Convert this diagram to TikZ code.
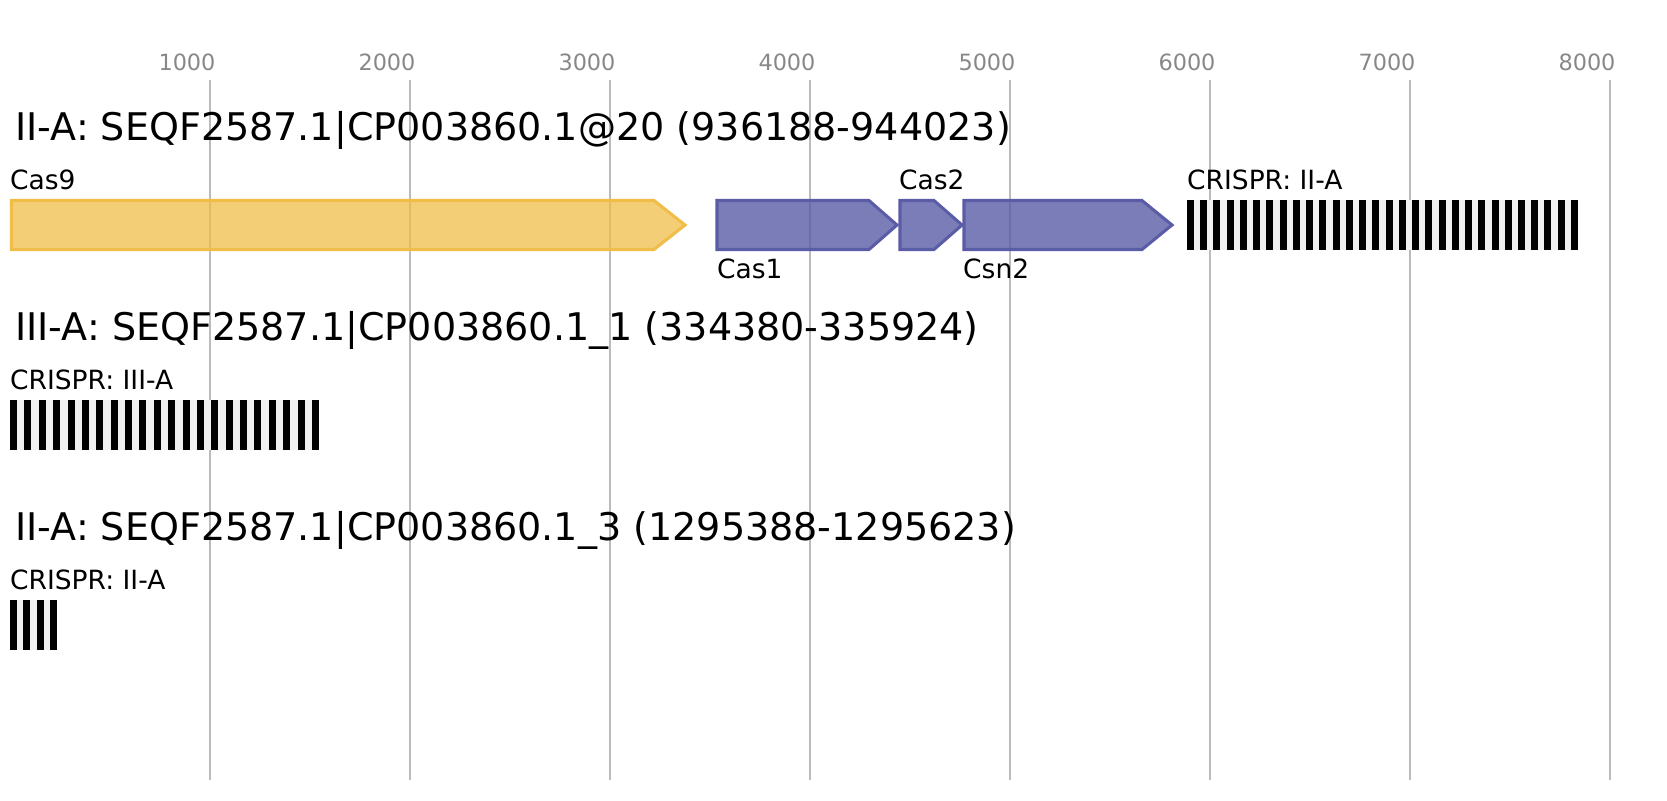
\documentclass[tikz,border=0pt]{standalone}
\usepackage{fontspec}
\setmainfont{DejaVu Sans}
\definecolor{gridgray}{HTML}{BBBBBB}
\definecolor{tickgray}{HTML}{888888}
\definecolor{casyellow}{HTML}{EFBD48}
\definecolor{casblue}{HTML}{5A5CA6}
\definecolor{spacergray}{HTML}{F0F0F0}
\begin{document}
\begin{tikzpicture}[
    x=0.03cm, y=-0.03cm,
  gridline/.style={draw=gridgray, line width=1.7pt},
  ticklabel/.style={anchor=base, inner sep=0, text=tickgray, font=\fontsize{19.1}{21}\selectfont},
  titlelabel/.style={anchor=base west, inner sep=0, font=\fontsize{32.5}{37}\selectfont},
  genelabel/.style={anchor=base west, inner sep=0, font=\fontsize{22.6}{26}\selectfont},
  cassnine/.style={draw=casyellow, fill=casyellow, fill opacity=.75, line width=2.6pt},
  casgene/.style={draw=casblue, fill=casblue, fill opacity=.8, line width=2.6pt},
  spacerbar/.style={fill=spacergray},
  repeatbar/.style={fill=black}
]
\useasboundingbox (0,0) rectangle (1667,800);

% Scale and grid
\foreach \k [evaluate=\k as \xk using 10+200*\k] in {1,...,8} {
  \draw[gridline] (\xk,80) -- (\xk,780);
  \node[ticklabel] (tick\k) at (\xk-23,70) {\k000};
}

% Locus titles
\node[titlelabel] (locusA) at (15,140) {II-A: SEQF2587.1|CP003860.1@20 (936188-944023)};
\node[titlelabel] (locusB) at (15,340) {III-A: SEQF2587.1|CP003860.1\_1 (334380-335924)};
\node[titlelabel] (locusC) at (15,540) {II-A: SEQF2587.1|CP003860.1\_3 (1295388-1295623)};

% Genes
\draw[cassnine] (11.5,200.5) -- (654,200.5) -- (685,225) -- (654,249.5) -- (11.5,249.5) -- cycle;
\draw[casgene] (717,200.5) -- (869,200.5) -- (897,225) -- (869,249.5) -- (717,249.5) -- cycle;
\draw[casgene] (900,200.5) -- (934,200.5) -- (962,225) -- (934,249.5) -- (900,249.5) -- cycle;
\draw[casgene] (964,200.5) -- (1142,200.5) -- (1172,225) -- (1142,249.5) -- (964,249.5) -- cycle;

\node[genelabel] (cas9) at (10,189) {Cas9};
\node[genelabel] (cas1) at (717,278) {Cas1};
\node[genelabel] (cas2) at (899,189) {Cas2};
\node[genelabel] (csn2) at (963,278) {Csn2};

% CRISPR arrays
\fill[spacerbar] (1187,200) rectangle (1578,250);
\foreach \i in {0,...,29}
  \fill[repeatbar] ({1187+13.24*\i},200) rectangle ++(7,50);
\node[genelabel] (crisprA) at (1187,189) {CRISPR: II-A};

\fill[spacerbar] (10,400) rectangle (319,450);
\foreach \i in {0,...,21}
  \fill[repeatbar] ({10+14.38*\i},400) rectangle ++(7,50);
\node[genelabel] (crisprB) at (10,389) {CRISPR: III-A};

\fill[spacerbar] (10,600) rectangle (57,650);
\foreach \i in {0,...,3}
  \fill[repeatbar] ({10+13.33*\i},600) rectangle ++(7,50);
\node[genelabel] (crisprC) at (10,589) {CRISPR: II-A};

\end{tikzpicture}
\end{document}
